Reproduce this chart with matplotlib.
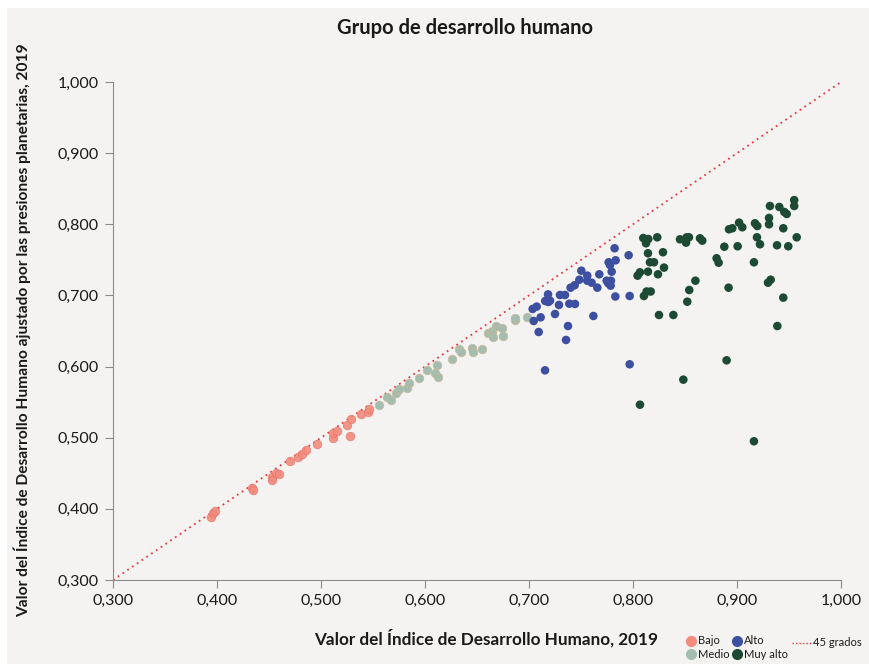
import matplotlib
matplotlib.use("Agg")
import matplotlib.pyplot as plt
from matplotlib.patches import Rectangle
from matplotlib.lines import Line2D

plt.rcParams['font.family'] = ['Lato', 'DejaVu Sans']

# IDH 2019 (x) vs IDH ajustado por presiones planetarias (y)
bajo_x = [0.394, 0.3965, 0.398, 0.4333, 0.4343, 0.4526, 0.4529, 0.4567, 0.4596, 0.4702,
          0.4782, 0.4814, 0.4856, 0.4965, 0.5112, 0.5119, 0.5151, 0.5279, 0.5247, 0.5288,
          0.5385, 0.5455, 0.5465]
bajo_y = [0.389, 0.3937, 0.397, 0.430, 0.4265, 0.445, 0.4406, 0.4508, 0.4486, 0.4668,
          0.4729, 0.4771, 0.4823, 0.4907, 0.500, 0.5062, 0.5094, 0.5024, 0.5175, 0.5267,
          0.5329, 0.5366, 0.540]

medio_x = [0.556, 0.5638, 0.5673, 0.5718, 0.575, 0.5824, 0.5846, 0.5945, 0.6016, 0.6096,
           0.6128, 0.6112, 0.626, 0.633, 0.6343, 0.6452, 0.6465, 0.6548, 0.6609, 0.6641,
           0.6683, 0.6737, 0.6657, 0.6746, 0.6865, 0.6869, 0.6978]
medio_y = [0.546, 0.5572, 0.553, 0.5624, 0.568, 0.570, 0.5769, 0.5844, 0.5947, 0.5905,
           0.5858, 0.6018, 0.6102, 0.6243, 0.621, 0.6257, 0.621, 0.6243, 0.6468, 0.6505,
           0.657, 0.6538, 0.6412, 0.643, 0.6655, 0.6678, 0.6692]

alto_x = [0.7823, 0.7958, 0.7766, 0.7833, 0.7779, 0.7795, 0.7503, 0.756, 0.7676, 0.7484,
          0.756, 0.7602, 0.7747, 0.7788, 0.7763, 0.7785, 0.7657, 0.7439, 0.74, 0.7183,
          0.7298, 0.7346, 0.7156, 0.7186, 0.7202, 0.7288, 0.7388, 0.7442, 0.783, 0.7968,
          0.7074, 0.7035, 0.7112, 0.7045, 0.725, 0.7619, 0.7375, 0.7093, 0.7356, 0.7968,
          0.7154]
alto_y = [0.7663, 0.7565, 0.7466, 0.7494, 0.7428, 0.7334, 0.7348, 0.7278, 0.7297, 0.7221,
          0.7207, 0.7179, 0.7207, 0.7207, 0.717, 0.7137, 0.7109, 0.7143, 0.7109, 0.7015,
          0.7006, 0.7006, 0.6922, 0.6908, 0.6926, 0.6866, 0.6884, 0.688, 0.6985, 0.6992,
          0.6843, 0.681, 0.6692, 0.6641, 0.6739, 0.6711, 0.657, 0.6486, 0.6374, 0.6032,
          0.5947]

muyalto_x = [0.8099, 0.8147, 0.8125, 0.8233, 0.8452, 0.8516, 0.8538, 0.851, 0.8644, 0.8666,
             0.8923, 0.8955, 0.9192, 0.9221, 0.9385, 0.9493, 0.9574, 0.9445, 0.8878, 0.9006,
             0.8144, 0.8288, 0.8163, 0.8202, 0.8298, 0.8144, 0.8067, 0.8044, 0.824, 0.8804,
             0.8823, 0.9163, 0.86, 0.8541, 0.8919, 0.9298, 0.9324, 0.8131, 0.817, 0.8105,
             0.8522, 0.9445, 0.825, 0.8388, 0.9388, 0.89, 0.8484, 0.8067, 0.9163,
             0.955, 0.955, 0.9317, 0.9407, 0.9455, 0.9478, 0.9308, 0.9308, 0.9173, 0.9195,
             0.902, 0.9051]
muyalto_y = [0.7807, 0.7793, 0.7733, 0.7817, 0.7789, 0.7817, 0.7817, 0.7742, 0.7803, 0.777,
             0.793, 0.7944, 0.7817, 0.7719, 0.7705, 0.7691, 0.7817, 0.7944, 0.7685, 0.7691,
             0.7593, 0.7607, 0.7466, 0.7466, 0.7391, 0.7334, 0.7325, 0.7278, 0.7297, 0.7522,
             0.746, 0.7466, 0.7207, 0.7076, 0.7109, 0.7179, 0.7221, 0.7055, 0.7055, 0.6992,
             0.6912, 0.6969, 0.6725, 0.6725, 0.657, 0.6088, 0.5816, 0.5464, 0.495,
             0.834, 0.8257, 0.8257, 0.8243, 0.8173, 0.8145, 0.8089, 0.800, 0.8014, 0.7976,
             0.8023, 0.7958]

ticks = [0.3, 0.4, 0.5, 0.6, 0.7, 0.8, 0.9, 1.0]
tick_labels = ['0,300', '0,400', '0,500', '0,600', '0,700', '0,800', '0,900', '1,000']

c_bajo = '#f28b7b'
c_medio = '#a5bdaf'
c_alto = '#3d4fa1'
c_muy = '#1c4a33'
c_line = '#e8383d'

fig = plt.figure(figsize=(8.69, 6.64), dpi=100, facecolor='white')
fig.patches.append(Rectangle((7 / 869, 0), 1, 1 - 8 / 664, transform=fig.transFigure,
                             facecolor='#f4f3f1', edgecolor='none', zorder=-10))

ax = fig.add_axes([113 / 869, 84 / 664, 728 / 869, 498 / 664])
ax.set_facecolor('none')

ax.plot([0.3, 1.0], [0.3, 1.0], linestyle=(0, (1, 2.2)), color=c_line, lw=1.3, zorder=1)

ax.scatter(bajo_x, bajo_y, s=38, color=c_bajo, edgecolor='#e7756a', linewidth=0.5, alpha=0.9, zorder=3)
ax.scatter(medio_x, medio_y, s=38, color=c_medio, edgecolor='#c9b89a', linewidth=0.5, zorder=3)
ax.scatter(alto_x, alto_y, s=38, color=c_alto, edgecolor='none', zorder=3)
ax.scatter(muyalto_x, muyalto_y, s=38, color=c_muy, edgecolor='none', zorder=3)

ax.set_xlim(0.3, 1.0)
ax.set_ylim(0.3, 1.0)
ax.set_xticks(ticks)
ax.set_xticklabels(tick_labels)
ax.set_yticks(ticks)
ax.set_yticklabels(tick_labels)
ax.tick_params(axis='both', length=6, width=0.8, color='#8a8a8a', labelsize=11.5,
               labelcolor='#1a1a1a', pad=4)

for s in ['top', 'right']:
    ax.spines[s].set_visible(False)
for s in ['left', 'bottom']:
    ax.spines[s].set_color('#8a8a8a')
    ax.spines[s].set_linewidth(0.8)

fig.text(465 / 869, 1 - 28 / 664, 'Grupo de desarrollo humano', ha='center', va='center',
         fontsize=14.5, fontweight='bold', color='#1a1a1a')
fig.text(486 / 869, 1 - 638 / 664, 'Valor del Índice de Desarrollo Humano, 2019', ha='center',
         va='center', fontsize=12.3, fontweight='bold', color='#1a1a1a')
fig.text(22 / 869, 1 - 330 / 664,
         'Valor del Índice de Desarrollo Humano ajustado por las presiones planetarias, 2019',
         ha='center', va='center', rotation=90, fontsize=11.2, fontweight='bold', color='#1a1a1a')

# legend
leg_items = [(691, 641, c_bajo, 'Bajo'), (737, 641, c_alto, 'Alto'),
             (691, 654, c_medio, 'Medio'), (737, 654, c_muy, 'Muy alto')]
for px, py, col, lab in leg_items:
    fig.add_artist(Line2D([px / 869], [1 - py / 664], marker='o', markersize=7, color=col,
                          linestyle='none', transform=fig.transFigure))
    fig.text((px + 7) / 869, 1 - py / 664, lab, ha='left', va='center', fontsize=8,
             color='#1a1a1a')
fig.add_artist(Line2D([792 / 869, 812 / 869], [1 - 643 / 664, 1 - 643 / 664],
                      linestyle=(0, (1, 1.5)), color=c_line, lw=1, transform=fig.transFigure))
fig.text(813 / 869, 1 - 643 / 664, '45 grados', ha='left', va='center', fontsize=8,
         color='#1a1a1a')

fig.savefig('out.png', dpi=100, facecolor=fig.get_facecolor())
